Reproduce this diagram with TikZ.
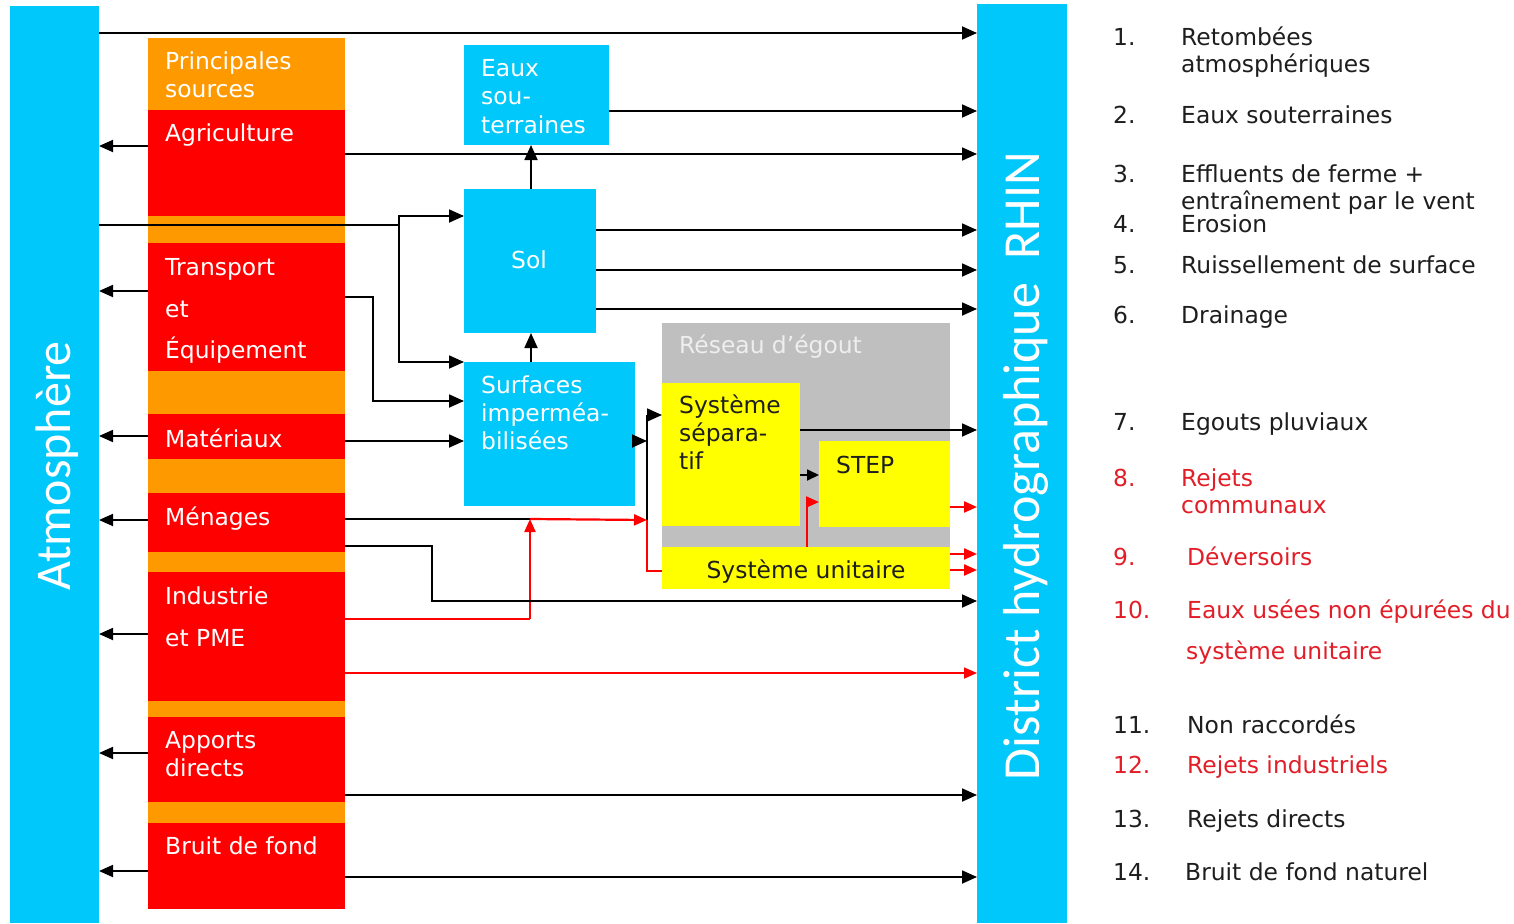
\documentclass[tikz,border=0pt]{standalone}
\usepackage{fontspec}
\setmainfont{DejaVu Sans}
\newfontfamily\barfont{Carlito}
\usetikzlibrary{arrows.meta}
\definecolor{cyanA}{RGB}{0,200,250}
\definecolor{redA}{RGB}{255,0,0}
\definecolor{orangeA}{RGB}{255,153,0}
\definecolor{grayA}{RGB}{191,191,191}
\definecolor{yellowA}{RGB}{255,255,0}
\definecolor{legred}{RGB}{226,30,40}
\definecolor{ink}{RGB}{30,30,30}
\definecolor{lightgr}{RGB}{238,238,238}
\begin{document}
\begin{tikzpicture}[x=1pt,y=-1pt,
  box/.style={draw=none, inner sep=0, outer sep=0, anchor=north west},
  wt/.style={anchor=base west, inner sep=0, text=white, font=\fontsize{23.4}{28}\selectfont},
  bt/.style={anchor=base west, inner sep=0, text=ink, font=\fontsize{23.4}{28}\selectfont},
  leg/.style={anchor=base west, inner sep=0, text=ink, font=\fontsize{23.4}{28}\selectfont},
  legr/.style={anchor=base west, inner sep=0, text=legred, font=\fontsize{23.4}{28}\selectfont},
  bar/.style={rotate=90, anchor=base, inner sep=0, text=white, font=\barfont\fontsize{50}{60}\selectfont},
  ln/.style={draw=black, line width=1.8pt},
  thk/.style={draw=black, line width=2.8pt},
  arr/.style={draw=black, line width=1.8pt, -{Triangle[length=15pt,width=13pt]}},
  rln/.style={draw=redA, line width=2.2pt},
  rarr/.style={draw=redA, line width=2.2pt, -{Triangle[length=13pt,width=11pt]}},
  rthin/.style={draw=redA, line width=1.5pt, -{Triangle[length=13pt,width=11pt]}}]
\useasboundingbox (0,0) rectangle (1514,923);
\fill[white] (0,0) rectangle (1514,923);

% side bars
\node[box, fill=cyanA, minimum width=89, minimum height=917] (atm) at (10,6) {};
\node[box, fill=cyanA, minimum width=90, minimum height=919] (rhin) at (977,4) {};
\node[bar] (atmt) at (70,466) {Atmosphère};
\node[bar, font=\barfont\fontsize{52}{60}\selectfont] (rhint) at (1039,466) {District hydrographique\ \ RHIN};

% source column
\node[box, fill=orangeA, minimum width=197, minimum height=871] (col) at (148,38) {};
\node[box, fill=redA, minimum width=197, minimum height=106] (agri) at (148,110) {};
\node[box, fill=redA, minimum width=197, minimum height=128] (transp) at (148,243) {};
\node[box, fill=redA, minimum width=197, minimum height=45] (mat) at (148,414) {};
\node[box, fill=redA, minimum width=197, minimum height=59] (men) at (148,493) {};
\node[box, fill=redA, minimum width=197, minimum height=129] (ind) at (148,572) {};
\node[box, fill=redA, minimum width=197, minimum height=85] (app) at (148,717) {};
\node[box, fill=redA, minimum width=197, minimum height=86] (bruit) at (148,823) {};

\node[wt] (s1) at (165,70) {Principales};
\node[wt] (s2) at (165,98) {sources};
\node[wt] (s3) at (165,142) {Agriculture};
\node[wt] (s4) at (165,275) {Transport};
\node[wt] (s5) at (165,317) {et};
\node[wt] (s6) at (165,358) {Équipement};
\node[wt] (s7) at (165,447) {Matériaux};
\node[wt] (s8) at (165,525) {Ménages};
\node[wt] (s9) at (165,604) {Industrie};
\node[wt] (s10) at (165,646) {et PME};
\node[wt] (s11) at (165,748) {Apports};
\node[wt] (s12) at (165,776) {directs};
\node[wt] (s13) at (165,854) {Bruit de fond};

% middle boxes
\node[box, fill=cyanA, minimum width=145, minimum height=100] (eaux) at (464,45) {};
\node[box, fill=cyanA, minimum width=132, minimum height=144] (sol) at (464,189) {};
\node[box, fill=cyanA, minimum width=171, minimum height=144] (surf) at (464,362) {};
\node[wt] (e1) at (481,77) {Eaux};
\node[wt] (e2) at (481,105) {sou-};
\node[wt] (e3) at (481,133) {terraines};
\node[wt, anchor=base] (so1) at (529,268) {Sol};
\node[wt] (u1) at (481,393) {Surfaces};
\node[wt] (u2) at (481,421) {imperméa-};
\node[wt] (u3) at (481,449) {bilisées};

% sewer network
\node[box, fill=grayA, minimum width=288, minimum height=266] (res) at (662,323) {};
\node[box, fill=yellowA, minimum width=138, minimum height=143] (sep) at (662,383) {};
\node[box, fill=yellowA, minimum width=131, minimum height=86] (step) at (819,441) {};
\node[box, fill=yellowA, minimum width=288, minimum height=42] (unit) at (662,547) {};
\node[wt, text=lightgr] (r1) at (679,353) {Réseau d’égout};
\node[bt] (p1) at (679,413) {Système};
\node[bt] (p2) at (679,441) {sépara-};
\node[bt] (p3) at (679,469) {tif};
\node[bt] (st) at (836,473) {STEP};
\node[bt, anchor=base] (un) at (806,578) {Système unitaire};

% arrows to atmosphere
\foreach \n/\yy in {agri/146, transp/291, mat/436, men/520, ind/634, app/753, bruit/871}
  \draw[arr, -{Triangle[length=14pt,width=12pt]}] (\n.west |- 0,\yy) -- (atm.east |- 0,\yy);

% atmosphere fallout
\draw[arr] (atm.east |- 0,33) -- (rhin.west |- 0,33);
\coordinate (j1) at (399,225);
\draw[ln] (atm.east |- j1) -- (j1);
\draw[arr] (j1) |- (sol.west |- 0,216);
\draw[arr] (j1) |- (surf.west |- 0,362);

% agriculture / groundwater / soil
\draw[arr] (agri.east |- 0,154) -- (rhin.west |- 0,154);
\draw[arr] (eaux.east |- 0,111) -- (rhin.west |- 0,111);
\draw[arr] (sol.north -| 531,0) -- (eaux.south -| 531,0);
\draw[arr] (surf.north -| 531,0) -- (sol.south -| 531,0);
\foreach \yy in {230, 270, 309}
  \draw[arr] (sol.east |- 0,\yy) -- (rhin.west |- 0,\yy);

% transport, materials
\coordinate (j2) at (373,297);
\draw[arr] (transp.east |- j2) -- (j2) |- (surf.west |- 0,401);
\draw[arr] (mat.east |- 0,441) -- (surf.west |- 0,441);

% surfaces to sewer
\coordinate (jt) at (647,415);
\coordinate (jm) at (647,441);
\coordinate (jb) at (647,520);
\draw[arr] (surf.east |- jm) -- (jm);
\draw[ln, line width=2.2pt] (jb) -- (jt);
\draw[arr] (jt) -- (sep.west |- jt);

% households & industry
\coordinate (jr) at (530,519);
\draw[thk] (men.east |- jr) -- (jr);
\draw[rarr] (jr) -- (jb);
\coordinate (ji) at (530,619);
\draw[rln] (ind.east |- ji) -- (ji);
\draw[rarr] (ji) -- (jr);
\draw[rln] (jb) |- (unit.west |- 0,571);
\coordinate (jn) at (432,546);
\draw[arr] (men.east |- jn) -- (jn) |- (rhin.west |- 0,601);
\draw[rthin] (ind.east |- 0,673) -- (rhin.west |- 0,673);
\draw[arr] (app.east |- 0,795) -- (rhin.west |- 0,795);
\draw[arr] (bruit.east |- 0,877) -- (rhin.west |- 0,877);

% sewer outputs
\draw[arr] (sep.east |- 0,430) -- (rhin.west |- 0,430);
\draw[arr, -{Triangle[length=12pt,width=11pt]}] (sep.east |- 0,475) -- (step.west |- 0,475);
\draw[rarr] (unit.north -| 807,0) |- (step.west |- 0,502);
\draw[rarr] (step.east |- 0,507) -- (rhin.west |- 0,507);
\draw[rarr] (unit.east |- 0,554) -- (rhin.west |- 0,554);
\draw[rarr] (unit.east |- 0,570) -- (rhin.west |- 0,570);

% legend
\node[leg] (n1) at (1113,46) {1.};
\node[leg] (l1a) at (1181,46) {Retombées};
\node[leg] (l1b) at (1181,73) {atmosphériques};
\node[leg] (n2) at (1113,124) {2.};
\node[leg] (l2) at (1181,124) {Eaux souterraines};
\node[leg] (n3) at (1113,182) {3.};
\node[leg] (l3a) at (1181,182) {Effluents de ferme +};
\node[leg] (l3b) at (1181,209) {entraînement par le vent};
\node[leg] (n4) at (1113,232) {4.};
\node[leg] (l4) at (1181,232) {Erosion};
\node[leg] (n5) at (1113,273) {5.};
\node[leg] (l5) at (1181,273) {Ruissellement de surface};
\node[leg] (n6) at (1113,323) {6.};
\node[leg] (l6) at (1181,323) {Drainage};
\node[leg] (n7) at (1113,430) {7.};
\node[leg] (l7) at (1181,430) {Egouts pluviaux};
\node[legr] (n8) at (1113,486) {8.};
\node[legr] (l8a) at (1181,486) {Rejets};
\node[legr] (l8b) at (1181,513) {communaux};
\node[legr] (n9) at (1113,565) {9.};
\node[legr] (l9) at (1187,565) {Déversoirs};
\node[legr] (n10) at (1113,618) {10.};
\node[legr] (l10a) at (1187,618) {Eaux usées non épurées du};
\node[legr] (l10b) at (1186,659) {système unitaire};
\node[leg] (n11) at (1113,733) {11.};
\node[leg] (l11) at (1187,733) {Non raccordés};
\node[legr] (n12) at (1113,773) {12.};
\node[legr] (l12) at (1187,773) {Rejets industriels};
\node[leg] (n13) at (1113,827) {13.};
\node[leg] (l13) at (1187,827) {Rejets directs};
\node[leg] (n14) at (1113,880) {14.};
\node[leg] (l14) at (1185,880) {Bruit de fond naturel};
\end{tikzpicture}
\end{document}
